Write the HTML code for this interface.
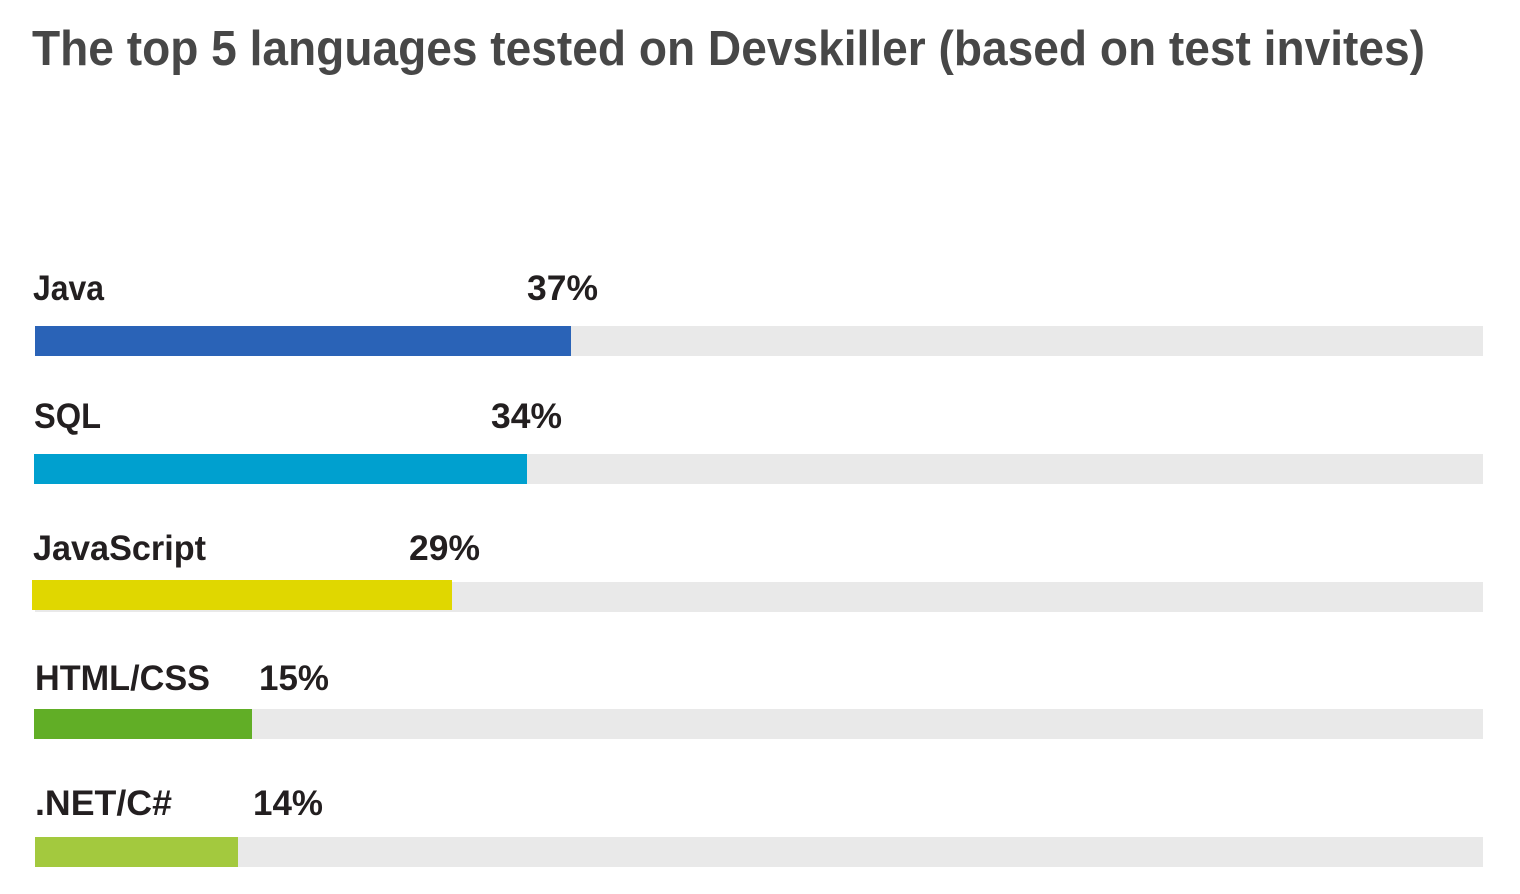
<!DOCTYPE html>
<html><head><meta charset="utf-8"><style>
html,body{margin:0;padding:0;background:#fff;}
svg{display:block;}
text{font-family:"Liberation Sans",sans-serif;font-weight:bold;}
</style></head><body>
<svg width="1520" height="894" viewBox="0 0 1520 894" xmlns="http://www.w3.org/2000/svg">
<text x="32" y="65" font-size="49" fill="#474747" textLength="1393" lengthAdjust="spacingAndGlyphs">The top 5 languages tested on Devskiller (based on test invites)</text>

<g font-size="35" fill="#231f20">
<text x="33" y="300" textLength="71" lengthAdjust="spacingAndGlyphs">Java</text>
<text x="527" y="300" textLength="71" lengthAdjust="spacingAndGlyphs">37%</text>
<text x="34" y="428" textLength="67" lengthAdjust="spacingAndGlyphs">SQL</text>
<text x="491" y="428" textLength="71" lengthAdjust="spacingAndGlyphs">34%</text>
<text x="33" y="560" textLength="173" lengthAdjust="spacingAndGlyphs">JavaScript</text>
<text x="409" y="560" textLength="71" lengthAdjust="spacingAndGlyphs">29%</text>
<text x="35" y="690" textLength="175" lengthAdjust="spacingAndGlyphs">HTML/CSS</text>
<text x="259" y="690" textLength="70" lengthAdjust="spacingAndGlyphs">15%</text>
<text x="35" y="815" textLength="137" lengthAdjust="spacingAndGlyphs">.NET/C#</text>
<text x="253" y="815" textLength="70" lengthAdjust="spacingAndGlyphs">14%</text>
</g>

<rect x="35" y="326" width="1448" height="30" fill="#e9e9e9"/>
<rect x="35" y="326" width="536" height="30" fill="#2a63b7"/>
<rect x="34" y="454" width="1449" height="30" fill="#e9e9e9"/>
<rect x="34" y="454" width="493" height="30" fill="#00a0cf"/>
<rect x="35" y="582" width="1448" height="30" fill="#e9e9e9"/>
<rect x="32" y="580" width="420" height="30" fill="#e0d700"/>
<rect x="34" y="709" width="1449" height="30" fill="#e9e9e9"/>
<rect x="34" y="709" width="218" height="30" fill="#61ae26"/>
<rect x="35" y="837" width="1448" height="30" fill="#e9e9e9"/>
<rect x="35" y="837" width="203" height="30" fill="#a3c93e"/>
</svg>
</body></html>
